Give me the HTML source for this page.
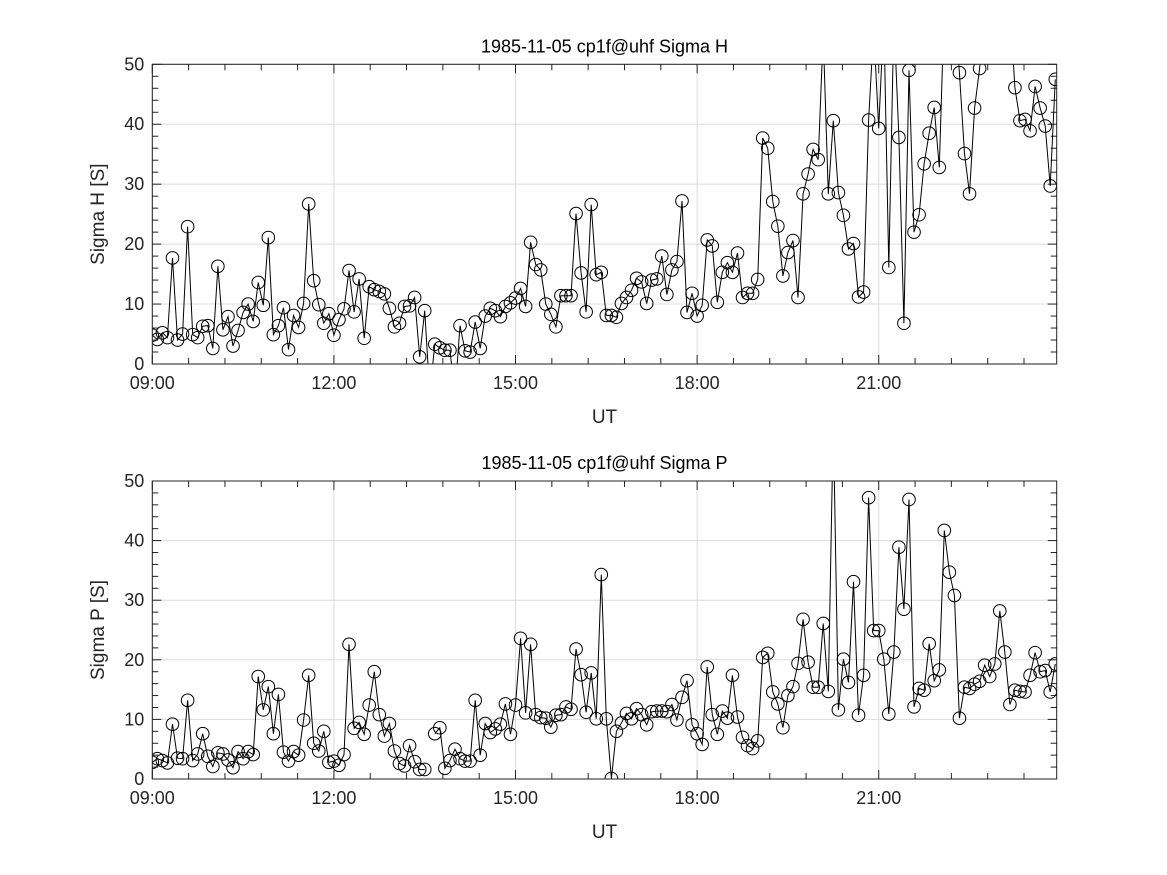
<!DOCTYPE html>
<html><head><meta charset="utf-8"><style>
html,body{margin:0;padding:0;background:#fff;}
svg{display:block;font-family:"Liberation Sans","DejaVu Sans",sans-serif;}
</style></head><body>
<svg id="fig" width="1167" height="875" viewBox="0 0 1167 875"></svg>
<script>
const sigmaH = [4.8,4.1,5.2,4.4,17.7,4.0,5.0,22.9,4.9,4.4,6.3,6.4,2.6,16.3,5.7,7.9,3.0,5.6,8.6,10.0,7.1,13.6,9.8,21.1,4.9,6.4,9.4,2.4,8.1,6.1,10.1,26.7,13.9,9.9,6.8,8.4,4.8,7.4,9.2,15.6,8.7,14.2,4.3,12.9,12.4,12.1,11.7,9.3,6.2,6.8,9.6,9.7,11.1,1.2,8.9,-5,3.3,2.7,2.3,2.3,-5,6.4,2.2,2.0,7.0,2.6,8.0,9.3,8.9,7.9,9.6,10.2,11.0,12.6,9.6,20.3,16.6,15.7,10.0,8.3,6.2,11.4,11.4,11.4,25.1,15.2,8.7,26.6,14.9,15.3,8.1,8.1,7.8,10.1,11.1,12.3,14.3,13.7,10.1,14.0,14.2,18.0,11.6,15.7,17.1,27.2,8.6,11.8,8.0,9.8,20.7,19.7,10.3,15.3,16.9,15.3,18.5,11.1,11.8,11.8,14.1,37.7,36.0,27.1,23.0,14.7,18.6,20.6,11.1,28.4,31.7,35.8,34.1,55,28.4,40.6,28.6,24.8,19.2,20.1,11.2,12.0,40.7,56,39.3,58,16.1,58,37.8,6.8,49.0,22.0,24.9,33.4,38.5,42.8,32.8,60,60,60,48.6,35.1,28.4,42.7,49.3,60,60,60,60,60,60,46.1,40.6,40.8,38.9,46.3,42.7,39.7,29.7,47.5];
const sigmaP = [2.8,3.4,3.1,2.7,9.2,3.5,3.4,13.2,3.1,4.2,7.6,3.8,2.1,4.4,4.2,3.2,1.9,4.6,3.4,4.6,4.1,17.2,11.6,15.5,7.6,14.2,4.5,3.0,4.6,4.0,9.9,17.4,6.0,4.7,8.0,2.8,3.0,2.3,4.1,22.6,8.5,9.5,7.5,12.4,18.0,10.8,7.2,9.3,4.7,2.6,2.2,5.6,2.9,1.6,1.6,null,7.6,8.6,1.8,3.1,5.0,3.4,3.0,3.0,13.2,4.0,9.3,7.8,8.4,9.2,12.6,7.5,12.4,23.6,11.1,22.6,10.8,10.3,10.2,8.7,10.7,10.8,12.1,11.7,21.8,17.5,11.2,17.8,10.1,34.3,10.1,0.1,8.0,9.4,11.0,10.1,11.8,10.8,9.1,11.3,11.4,11.4,11.3,12.5,9.9,13.7,16.5,9.1,7.6,5.8,18.8,10.8,7.5,11.4,10.2,17.4,10.4,7.0,5.6,5.1,6.4,20.4,21.1,14.6,12.6,8.6,14.0,15.5,19.4,26.8,19.6,15.4,15.4,26.1,14.7,60,11.6,20.1,16.2,33.1,10.7,17.4,47.2,24.9,24.9,20.1,10.9,21.3,38.9,28.5,46.9,12.1,15.2,14.9,22.7,16.5,18.3,41.7,34.7,30.8,10.2,15.4,15.2,15.9,16.4,19.1,17.2,19.3,28.2,21.3,12.5,14.9,14.7,14.6,17.4,21.2,18.0,18.2,14.6,19.3];
const xTickLabels = ["09:00","12:00","15:00","18:00","21:00"];
const xTickHours = [9,12,15,18,21];
const yTicks = [0,10,20,30,40,50];
const startHour = 9, stepHours = 1/12;

const NS = "http://www.w3.org/2000/svg";
const svg = document.getElementById('fig');
function mk(tag, attrs, parent){const e=document.createElementNS(NS,tag);for(const k in attrs)e.setAttribute(k,attrs[k]);(parent||svg).appendChild(e);return e;}

function panel(cfg){
  const L=152.3,R=1056.7,T=cfg.top,B=cfg.bottom;
  const xmin=9,xmax=23.94,ymin=0,ymax=50;
  const X=h=>L+(h-xmin)/(xmax-xmin)*(R-L);
  const Y=v=>B-(v-ymin)/(ymax-ymin)*(B-T);
  const g=mk('g',{});
  
  
  // grid
  xTickHours.forEach(h=>{const l=mk('line',{x1:X(h),x2:X(h),y1:T,y2:B,stroke:'#dcdcdc','stroke-width':1},g);
    });
  yTicks.forEach(v=>{const l=mk('line',{x1:L,x2:R,y1:Y(v),y2:Y(v),stroke:'#dcdcdc','stroke-width':1},g);
    });
  // ticks
  for(let h=9;h<=xmax+1e-6;h+=0.6){
    const big=Math.abs((h-9)%3)<1e-6||Math.abs((h-9)%3-3)<1e-6;const len=big?9:6;
    mk('line',{x1:X(h),x2:X(h),y1:B,y2:B-len,stroke:'#222'},g);
    mk('line',{x1:X(h),x2:X(h),y1:T,y2:T+len,stroke:'#222'},g);
  }
  for(let v=0;v<=50;v+=2){const len=(v%10===0)?9:6;
    mk('line',{x1:L,x2:L+len,y1:Y(v),y2:Y(v),stroke:'#222'},g);
    mk('line',{x1:R,x2:R-len,y1:Y(v),y2:Y(v),stroke:'#222'},g);}
  // data
  const cid='clip'+cfg.name;
  const cp=mk('clipPath',{id:cid},g);mk('rect',{x:L,y:T,width:R-L,height:B-T},cp);
  const dg=mk('g',{'clip-path':'url(#'+cid+')'},g);
  let d='';let pen=false;
  cfg.data.forEach((v,i)=>{if(v===null){pen=false;return;}const x=X(startHour+i*stepHours),y=Y(v);d+=(pen?'L':'M')+x.toFixed(1)+' '+y.toFixed(1);pen=true;});
  const path=mk('path',{d:d,fill:'none',stroke:'#000','stroke-width':1},dg);
  
  cfg.data.forEach((v,i)=>{if(v===null)return;const c=mk('circle',{cx:X(startHour+i*stepHours),cy:Y(v),r:6.3,fill:'none',stroke:'#000','stroke-width':1},dg);
    });
  // frame
  const fr=mk('rect',{x:L,y:T,width:R-L,height:B-T,fill:'none',stroke:'#222','stroke-width':1},g);
  
  // labels
  xTickHours.forEach((h,k)=>{const t=mk('text',{x:X(h),y:B+25,'text-anchor':'middle','font-size':18,fill:'#262626'},g);t.textContent=xTickLabels[k];
    });
  yTicks.forEach(v=>{const t=mk('text',{x:L-8,y:Y(v)+6,'text-anchor':'end','font-size':18,fill:'#262626'},g);t.textContent=v;
    });
  const tt=mk('text',{x:(L+R)/2,y:T-12,'text-anchor':'middle','font-size':18,fill:'#000'},g);tt.textContent=cfg.title;
  
  const xl=mk('text',{x:(L+R)/2,y:B+59,'text-anchor':'middle','font-size':19,fill:'#262626'},g);xl.textContent='UT';
  
  const cy=(T+B)/2;
  const yl=mk('text',{x:104,y:cy,'text-anchor':'middle','font-size':19,fill:'#262626',transform:'rotate(-90 104 '+cy+')'},g);yl.textContent=cfg.ylabel;
  
}
panel({name:'sigma-h-panel',top:64.3,bottom:364,data:sigmaH,title:'1985-11-05  cp1f@uhf Sigma H',ylabel:'Sigma H [S]'});
panel({name:'sigma-p-panel',top:481,bottom:779,data:sigmaP,title:'1985-11-05  cp1f@uhf Sigma P',ylabel:'Sigma P [S]'});
</script>
</body></html>
